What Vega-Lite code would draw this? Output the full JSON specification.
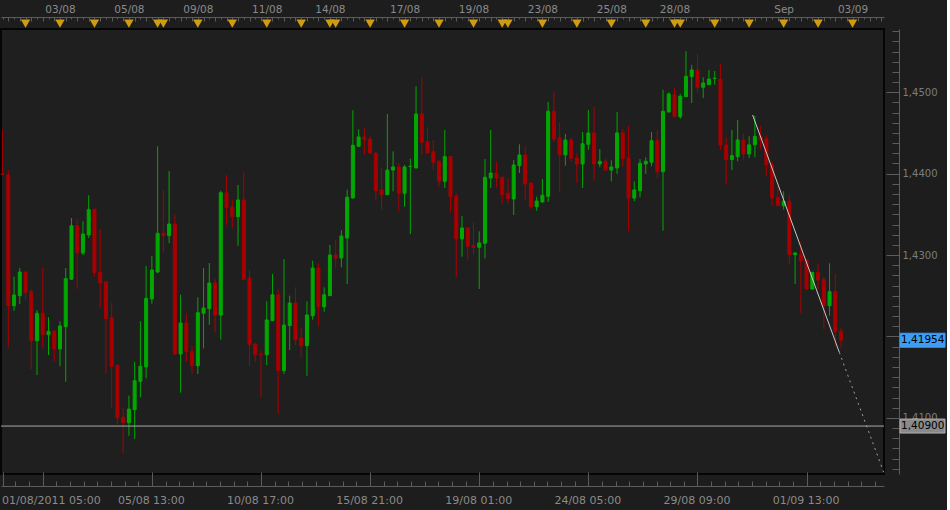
{
  "$schema": "https://vega.github.io/schema/vega-lite/v6.json",
  "background": "#1d1d1d",
  "padding": {"left": -1, "top": 4, "right": 0, "bottom": 0},
  "autosize": {"type": "pad"},
  "spacing": 0,
  "bounds": "flush",
  "config": {
    "view": {"stroke": null},
    "axis": {"labelFont": "DejaVu Sans", "labelColor": "#8a8a8a", "domainColor": "#5c5c5c", "tickColor": "#5c5c5c", "grid": false, "title": null, "labelOverlap": false, "labelFlush": false, "labelBound": false}
  },
  "datasets": {
    "candles": [
      {"i":1,"open":1.43995,"high":1.44549,"low":1.43985,"close":1.43990},
      {"i":2,"open":1.43984,"high":1.44045,"low":1.41867,"close":1.42378},
      {"i":3,"open":1.42378,"high":1.42734,"low":1.42317,"close":1.42510},
      {"i":4,"open":1.42501,"high":1.42841,"low":1.42399,"close":1.42792},
      {"i":5,"open":1.42792,"high":1.42800,"low":1.42440,"close":1.42543},
      {"i":6,"open":1.42550,"high":1.42583,"low":1.41601,"close":1.41948},
      {"i":7,"open":1.41948,"high":1.42325,"low":1.41527,"close":1.42285},
      {"i":8,"open":1.42285,"high":1.42841,"low":1.41855,"close":1.42022},
      {"i":9,"open":1.42022,"high":1.42236,"low":1.41773,"close":1.42064},
      {"i":10,"open":1.42064,"high":1.42080,"low":1.41690,"close":1.41846},
      {"i":11,"open":1.41846,"high":1.42187,"low":1.41634,"close":1.42129},
      {"i":12,"open":1.42120,"high":1.42841,"low":1.41445,"close":1.42710},
      {"i":13,"open":1.42703,"high":1.43456,"low":1.42694,"close":1.43361},
      {"i":14,"open":1.43361,"high":1.43443,"low":1.42583,"close":1.43029},
      {"i":15,"open":1.43026,"high":1.43415,"low":1.43001,"close":1.43259},
      {"i":16,"open":1.43247,"high":1.43735,"low":1.43210,"close":1.43558},
      {"i":17,"open":1.43558,"high":1.43572,"low":1.42739,"close":1.42784},
      {"i":18,"open":1.42792,"high":1.43320,"low":1.42354,"close":1.42661},
      {"i":19,"open":1.42669,"high":1.42681,"low":1.41539,"close":1.42219},
      {"i":20,"open":1.42227,"high":1.42411,"low":1.41121,"close":1.41634},
      {"i":21,"open":1.41646,"high":1.41662,"low":1.40916,"close":1.40999},
      {"i":22,"open":1.41007,"high":1.41121,"low":1.40569,"close":1.40941},
      {"i":23,"open":1.40941,"high":1.41273,"low":1.40781,"close":1.41109},
      {"i":24,"open":1.41101,"high":1.41690,"low":1.40741,"close":1.41457},
      {"i":25,"open":1.41449,"high":1.42187,"low":1.41253,"close":1.41634},
      {"i":26,"open":1.41625,"high":1.42866,"low":1.41486,"close":1.42469},
      {"i":27,"open":1.42461,"high":1.42989,"low":1.42403,"close":1.42817},
      {"i":28,"open":1.42792,"high":1.44336,"low":1.42780,"close":1.43268},
      {"i":29,"open":1.43268,"high":1.43800,"low":1.43029,"close":1.43238},
      {"i":30,"open":1.43238,"high":1.44033,"low":1.43145,"close":1.43382},
      {"i":31,"open":1.43382,"high":1.43492,"low":1.41773,"close":1.41785},
      {"i":32,"open":1.41785,"high":1.42513,"low":1.41309,"close":1.42166},
      {"i":33,"open":1.42166,"high":1.42285,"low":1.41683,"close":1.41813},
      {"i":34,"open":1.41818,"high":1.41887,"low":1.41539,"close":1.41641},
      {"i":35,"open":1.41641,"high":1.42481,"low":1.41539,"close":1.42292},
      {"i":36,"open":1.42285,"high":1.42841,"low":1.41855,"close":1.42350},
      {"i":37,"open":1.42341,"high":1.42903,"low":1.42145,"close":1.42657},
      {"i":38,"open":1.42657,"high":1.42706,"low":1.42051,"close":1.42264},
      {"i":39,"open":1.42264,"high":1.43791,"low":1.41961,"close":1.43766},
      {"i":40,"open":1.43766,"high":1.43984,"low":1.43373,"close":1.43582},
      {"i":41,"open":1.43591,"high":1.43680,"low":1.43329,"close":1.43472},
      {"i":42,"open":1.43472,"high":1.43861,"low":1.43115,"close":1.43677},
      {"i":43,"open":1.43677,"high":1.44021,"low":1.42694,"close":1.42703},
      {"i":44,"open":1.42719,"high":1.42817,"low":1.41641,"close":1.41899},
      {"i":45,"open":1.41908,"high":1.41914,"low":1.41690,"close":1.41776},
      {"i":46,"open":1.41785,"high":1.41825,"low":1.41253,"close":1.41779},
      {"i":47,"open":1.41776,"high":1.42432,"low":1.41650,"close":1.42203},
      {"i":48,"open":1.42194,"high":1.42768,"low":1.42190,"close":1.42513},
      {"i":49,"open":1.42513,"high":1.42583,"low":1.41056,"close":1.41580},
      {"i":50,"open":1.41580,"high":1.42952,"low":1.41539,"close":1.42141},
      {"i":51,"open":1.42133,"high":1.42501,"low":1.41834,"close":1.42411},
      {"i":52,"open":1.42411,"high":1.42604,"low":1.41895,"close":1.41957},
      {"i":53,"open":1.41981,"high":1.42104,"low":1.41736,"close":1.41887},
      {"i":54,"open":1.41887,"high":1.42432,"low":1.41518,"close":1.42264},
      {"i":55,"open":1.42255,"high":1.42931,"low":1.42206,"close":1.42841},
      {"i":56,"open":1.42841,"high":1.42899,"low":1.42125,"close":1.42366},
      {"i":57,"open":1.42366,"high":1.42604,"low":1.42304,"close":1.42513},
      {"i":58,"open":1.42501,"high":1.43124,"low":1.42497,"close":1.43001},
      {"i":59,"open":1.43001,"high":1.43185,"low":1.42838,"close":1.42964},
      {"i":60,"open":1.42964,"high":1.43304,"low":1.42850,"close":1.43234},
      {"i":61,"open":1.43210,"high":1.43803,"low":1.42645,"close":1.43710},
      {"i":62,"open":1.43701,"high":1.44779,"low":1.43695,"close":1.44349},
      {"i":63,"open":1.44336,"high":1.44545,"low":1.44334,"close":1.44451},
      {"i":64,"open":1.44451,"high":1.44558,"low":1.44233,"close":1.44418},
      {"i":65,"open":1.44426,"high":1.44459,"low":1.44242,"close":1.44254},
      {"i":66,"open":1.44254,"high":1.44260,"low":1.43668,"close":1.43791},
      {"i":67,"open":1.43800,"high":1.44070,"low":1.43558,"close":1.43742},
      {"i":68,"open":1.43742,"high":1.44733,"low":1.43738,"close":1.44045},
      {"i":69,"open":1.44045,"high":1.44275,"low":1.43784,"close":1.44082},
      {"i":70,"open":1.44082,"high":1.44131,"low":1.43538,"close":1.43759},
      {"i":71,"open":1.43759,"high":1.44107,"low":1.43594,"close":1.44082},
      {"i":72,"open":1.44087,"high":1.44184,"low":1.43259,"close":1.44091},
      {"i":73,"open":1.44070,"high":1.45074,"low":1.44064,"close":1.44733},
      {"i":74,"open":1.44733,"high":1.45184,"low":1.44233,"close":1.44386},
      {"i":75,"open":1.44393,"high":1.44570,"low":1.44248,"close":1.44254},
      {"i":76,"open":1.44275,"high":1.44414,"low":1.44045,"close":1.44140},
      {"i":77,"open":1.44152,"high":1.44172,"low":1.43840,"close":1.43906},
      {"i":78,"open":1.43906,"high":1.44537,"low":1.43824,"close":1.44209},
      {"i":79,"open":1.44209,"high":1.44217,"low":1.43526,"close":1.43717},
      {"i":80,"open":1.43722,"high":1.43759,"low":1.42727,"close":1.43198},
      {"i":81,"open":1.43198,"high":1.43477,"low":1.42980,"close":1.43333},
      {"i":82,"open":1.43333,"high":1.43341,"low":1.42943,"close":1.43108},
      {"i":83,"open":1.43115,"high":1.43403,"low":1.43005,"close":1.43096},
      {"i":84,"open":1.43096,"high":1.43292,"low":1.42583,"close":1.43149},
      {"i":85,"open":1.43145,"high":1.44180,"low":1.42960,"close":1.43956},
      {"i":86,"open":1.43947,"high":1.44537,"low":1.43824,"close":1.44008},
      {"i":87,"open":1.44008,"high":1.44147,"low":1.43833,"close":1.43947},
      {"i":88,"open":1.43956,"high":1.43960,"low":1.43628,"close":1.43742},
      {"i":89,"open":1.43759,"high":1.43943,"low":1.43628,"close":1.43698},
      {"i":90,"open":1.43689,"high":1.44168,"low":1.43492,"close":1.44107},
      {"i":91,"open":1.44098,"high":1.44361,"low":1.44008,"close":1.44230},
      {"i":92,"open":1.44230,"high":1.44336,"low":1.43677,"close":1.43873},
      {"i":93,"open":1.43886,"high":1.43892,"low":1.43566,"close":1.43594},
      {"i":94,"open":1.43594,"high":1.43717,"low":1.43545,"close":1.43664},
      {"i":95,"open":1.43652,"high":1.43935,"low":1.43646,"close":1.43735},
      {"i":96,"open":1.43722,"high":1.44881,"low":1.43652,"close":1.44766},
      {"i":97,"open":1.44766,"high":1.45012,"low":1.44393,"close":1.44426},
      {"i":98,"open":1.44438,"high":1.44631,"low":1.43779,"close":1.44230},
      {"i":99,"open":1.44230,"high":1.44488,"low":1.44098,"close":1.44414},
      {"i":100,"open":1.44414,"high":1.44438,"low":1.44147,"close":1.44189},
      {"i":101,"open":1.44193,"high":1.44250,"low":1.43886,"close":1.44119},
      {"i":102,"open":1.44119,"high":1.44512,"low":1.43824,"close":1.44368},
      {"i":103,"open":1.44361,"high":1.44782,"low":1.44291,"close":1.44500},
      {"i":104,"open":1.44500,"high":1.44823,"low":1.43914,"close":1.44119},
      {"i":105,"open":1.44119,"high":1.44303,"low":1.44078,"close":1.44152},
      {"i":106,"open":1.44152,"high":1.44180,"low":1.44037,"close":1.44045},
      {"i":107,"open":1.44045,"high":1.44164,"low":1.43906,"close":1.44082},
      {"i":108,"open":1.44070,"high":1.44758,"low":1.43996,"close":1.44500},
      {"i":109,"open":1.44500,"high":1.44549,"low":1.44086,"close":1.44189},
      {"i":110,"open":1.44193,"high":1.44590,"low":1.43292,"close":1.43701},
      {"i":111,"open":1.43701,"high":1.43906,"low":1.43661,"close":1.43800},
      {"i":112,"open":1.43791,"high":1.44180,"low":1.43710,"close":1.44128},
      {"i":113,"open":1.44119,"high":1.44201,"low":1.43996,"close":1.44152},
      {"i":114,"open":1.44140,"high":1.44512,"low":1.44091,"close":1.44405},
      {"i":115,"open":1.44405,"high":1.44537,"low":1.43943,"close":1.44024},
      {"i":116,"open":1.44024,"high":1.45032,"low":1.43300,"close":1.44766},
      {"i":117,"open":1.44758,"high":1.45000,"low":1.44752,"close":1.44979},
      {"i":118,"open":1.44970,"high":1.45053,"low":1.44696,"close":1.44700},
      {"i":119,"open":1.44700,"high":1.44979,"low":1.44672,"close":1.44951},
      {"i":120,"open":1.44946,"high":1.45504,"low":1.44942,"close":1.45196},
      {"i":121,"open":1.45192,"high":1.45335,"low":1.44868,"close":1.45274},
      {"i":122,"open":1.45274,"high":1.45470,"low":1.44991,"close":1.45061},
      {"i":123,"open":1.45061,"high":1.45184,"low":1.44930,"close":1.45114},
      {"i":124,"open":1.45093,"high":1.45274,"low":1.45089,"close":1.45163},
      {"i":125,"open":1.45169,"high":1.45262,"low":1.45093,"close":1.45172},
      {"i":126,"open":1.45163,"high":1.45348,"low":1.44291,"close":1.44352},
      {"i":127,"open":1.44352,"high":1.44445,"low":1.43865,"close":1.44174},
      {"i":128,"open":1.44174,"high":1.44537,"low":1.44045,"close":1.44221},
      {"i":129,"open":1.44209,"high":1.44660,"low":1.44152,"close":1.44414},
      {"i":130,"open":1.44414,"high":1.44496,"low":1.44172,"close":1.44242},
      {"i":131,"open":1.44242,"high":1.44459,"low":1.44193,"close":1.44354},
      {"i":132,"open":1.44356,"high":1.44712,"low":1.44201,"close":1.44459},
      {"i":133,"open":1.44459,"high":1.44590,"low":1.44303,"close":1.44418},
      {"i":134,"open":1.44426,"high":1.44467,"low":1.43968,"close":1.44110},
      {"i":135,"open":1.44110,"high":1.44152,"low":1.43607,"close":1.43701},
      {"i":136,"open":1.43710,"high":1.43852,"low":1.43603,"close":1.43607},
      {"i":137,"open":1.43607,"high":1.43784,"low":1.43558,"close":1.43661},
      {"i":138,"open":1.43661,"high":1.43742,"low":1.42882,"close":1.43005},
      {"i":139,"open":1.43005,"high":1.43034,"low":1.42645,"close":1.43026},
      {"i":140,"open":1.43005,"high":1.43157,"low":1.42285,"close":1.42931},
      {"i":141,"open":1.42940,"high":1.42946,"low":1.42577,"close":1.42583},
      {"i":142,"open":1.42583,"high":1.42792,"low":1.42577,"close":1.42789},
      {"i":143,"open":1.42789,"high":1.42891,"low":1.42583,"close":1.42694},
      {"i":144,"open":1.42698,"high":1.42734,"low":1.42092,"close":1.42378},
      {"i":145,"open":1.42378,"high":1.42899,"low":1.42255,"close":1.42550},
      {"i":146,"open":1.42550,"high":1.42768,"low":1.41867,"close":1.42059},
      {"i":147,"open":1.42064,"high":1.42104,"low":1.41855,"close":1.41954}
    ],
    "events": [
      {"i":5,"lane":0.45},{"i":11,"lane":0.45},{"i":17,"lane":0.45},{"i":23,"lane":0.45},
      {"i":28,"lane":0.45},{"i":29,"lane":0.45},{"i":35,"lane":0.45},{"i":41,"lane":0.45},
      {"i":47,"lane":0.45},{"i":53,"lane":0.45},{"i":58,"lane":0.45},{"i":59,"lane":0.45},
      {"i":65,"lane":0.45},{"i":71,"lane":0.45},{"i":77,"lane":0.45},{"i":83,"lane":0.45},
      {"i":88,"lane":0.45},{"i":89,"lane":0.45},{"i":95,"lane":0.45},{"i":101,"lane":0.45},
      {"i":107,"lane":0.45},{"i":113,"lane":0.45},{"i":118,"lane":0.45},{"i":119,"lane":0.45},
      {"i":125,"lane":0.45},{"i":131,"lane":0.45},{"i":137,"lane":0.45},{"i":143,"lane":0.45},
      {"i":149,"lane":0.45}
    ],
    "trend": [
      {"i":131.6,"p":1.44721,"seg":"solid"},
      {"i":146.7,"p":1.41806,"seg":"solid"},
      {"i":146.7,"p":1.41806,"seg":"ext"},
      {"i":154.43,"p":1.40332,"seg":"ext"}
    ],
    "levels": [
      {"p":1.409,"kind":"level"}
    ],
    "tags": [
      {"p":1.41954,"kind":"bid"},
      {"p":1.409,"kind":"level"}
    ]
  },
  "vconcat": [
    {
      "width": 883,
      "height": 12,
      "data": {"name": "events"},
      "mark": {"type": "point", "shape": "triangle-down", "filled": true, "color": "#d09c10", "opacity": 1, "size": 90},
      "encoding": {
        "x": {
          "field": "i", "type": "quantitative",
          "scale": {"domain": [0.728, 154.48], "nice": false, "zero": false, "padding": 0},
          "axis": {
            "orient": "top",
            "values": [1,2,3,4,5,6,7,8,9,10,11,12,13,14,15,16,17,18,19,20,21,22,23,24,25,26,27,28,29,30,31,32,33,34,35,36,37,38,39,40,41,42,43,44,45,46,47,48,49,50,51,52,53,54,55,56,57,58,59,60,61,62,63,64,65,66,67,68,69,70,71,72,73,74,75,76,77,78,79,80,81,82,83,84,85,86,87,88,89,90,91,92,93,94,95,96,97,98,99,100,101,102,103,104,105,106,107,108,109,110,111,112,113,114,115,116,117,118,119,120,121,122,123,124,125,126,127,128,129,130,131,132,133,134,135,136,137,138,139,140,141,142,143,144,145,146,147,148,149,150,151,152,153,154],
            "tickSize": {"condition": {"test": "datum.value % 2 == 0", "value": -4}, "value": -2},
            "labelPadding": {"condition": {"test": "datum.value % 2 == 0", "value": 7}, "value": 5},
            "labelExpr": "datum.value==11?'03/08':datum.value==23?'05/08':datum.value==35?'09/08':datum.value==47?'11/08':datum.value==58?'14/08':datum.value==71?'17/08':datum.value==83?'19/08':datum.value==95?'23/08':datum.value==107?'25/08':datum.value==118?'28/08':datum.value==137?'Sep':datum.value==149?'03/09':''",
            "labelOverlap": false,
            "labelFontSize": 10.5,
            "domainColor": "#5c5c5c"
          }
        },
        "y": {"field": "lane", "type": "quantitative", "scale": {"domain": [0, 1]}, "axis": null}
      }
    },
    {
      "width": 883,
      "height": 445,
      "view": {"stroke": "#050505", "strokeWidth": 2, "fill": "#1f1f1f"},
      "resolve": {"axis": {"x": "independent", "y": "independent"}},
      "layer": [
        {
          "data": {"name": "candles"},
          "mark": {"type": "rule", "strokeWidth": 1},
          "encoding": {
            "x": {
              "field": "i", "type": "quantitative", "title": null,
              "scale": {"domain": [0.728, 154.48], "nice": false, "zero": false, "padding": 0},
              "axis": {
                "orient": "bottom", "offset": 12,
                "values": [1,3.25,5.625,8,10.375,12.75,15.125,17.5,19.875,22.25,24.625,27,29.375,31.75,34.125,36.5,38.875,41.25,43.625,46,48.375,50.75,53.125,55.5,57.875,60.25,62.625,65,67.375,69.75,72.125,74.5,76.875,79.25,81.625,84,86.375,88.75,91.125,93.5,95.875,98.25,100.625,103,105.375,107.75,110.125,112.5,114.875,117.25,119.625,122,124.375,126.75,129.125,131.5,133.875,136.25,138.625,141,143.375,145.75,148.125,150.5,152.875],
                "tickSize": {"condition": {"test": "datum.value==1 || (datum.value-8)%19==0", "value": -14}, "value": -5},
                "labelExpr": "datum.value==1?'01/08/2011 05:00':datum.value==27?'05/08 13:00':datum.value==46?'10/08 17:00':datum.value==65?'15/08 21:00':datum.value==84?'19/08 01:00':datum.value==103?'24/08 05:00':datum.value==122?'29/08 09:00':datum.value==141?'01/09 13:00':''",
                "labelAlign": {"condition": {"test": "datum.value==1", "value": "left"}, "value": "center"},
                "labelOffset": {"condition": {"test": "datum.value==1", "value": -1}, "value": -1},
                "labelOverlap": false,
                "labelPadding": 22,
                "labelBaseline": "top",
                "labelFontSize": 11
              }
            },
            "y": {
              "field": "low", "type": "quantitative", "title": null,
              "scale": {"domain": [1.40311, 1.45777], "nice": false, "zero": false, "padding": 0},
              "axis": {
                "orient": "right", "offset": 15,
                "values": [1.40375,1.405,1.40625,1.4075,1.40875,1.41,1.41125,1.4125,1.41375,1.415,1.41625,1.4175,1.41875,1.42,1.42125,1.4225,1.42375,1.425,1.42625,1.4275,1.42875,1.43,1.43125,1.4325,1.43375,1.435,1.43625,1.4375,1.43875,1.44,1.44125,1.4425,1.44375,1.445,1.44625,1.4475,1.44875,1.45,1.45125,1.4525,1.45375,1.455,1.45625,1.4575],
                "tickSize": {"condition": {"test": "abs(datum.value*100-round(datum.value*100))<0.0001", "value": -13}, "value": -7},
                "labelExpr": "abs(datum.value*100-round(datum.value*100))<0.0001 && abs(datum.value-1.42)>0.0001 ? replace(format(datum.value, '.4f'), '.', ',') : ''",
                "labelOverlap": false,
                "labelPadding": 16,
                "labelFontSize": 10,
                "labelColor": "#7c7c7c"
              }
            },
            "y2": {"field": "high"},
            "color": {"condition": {"test": "datum.close >= datum.open", "value": "#00a800"}, "value": "#a80000"}
          }
        },
        {
          "data": {"name": "candles"},
          "mark": {"type": "bar", "width": 3, "strokeWidth": 1},
          "encoding": {
            "x": {"field": "i", "type": "quantitative", "title": null, "axis": null},
            "y": {"field": "open", "type": "quantitative", "title": null, "axis": null},
            "y2": {"field": "close"},
            "fill": {"condition": {"test": "datum.close >= datum.open", "value": "#00a800"}, "value": "#a80000"},
            "stroke": {"condition": {"test": "datum.close >= datum.open", "value": "#00a800"}, "value": "#a80000"}
          }
        },
        {
          "data": {"name": "levels"},
          "mark": {"type": "rule", "color": "#a8a8a8", "strokeWidth": 1},
          "encoding": {
            "y": {"field": "p", "type": "quantitative", "title": null, "axis": null}
          }
        },
        {
          "data": {"name": "trend"},
          "transform": [{"filter": "datum.seg == 'solid'"}],
          "mark": {"type": "line", "color": "#c8c8c8", "strokeWidth": 1},
          "encoding": {
            "x": {"field": "i", "type": "quantitative", "title": null, "axis": null},
            "y": {"field": "p", "type": "quantitative", "title": null, "axis": null}
          }
        },
        {
          "data": {"name": "trend"},
          "transform": [{"filter": "datum.seg == 'ext'"}],
          "mark": {"type": "line", "color": "#a0a0a0", "strokeWidth": 1, "strokeDash": [2, 4]},
          "encoding": {
            "x": {"field": "i", "type": "quantitative", "title": null, "axis": null},
            "y": {"field": "p", "type": "quantitative", "title": null, "axis": null}
          }
        },
        {
          "data": {"name": "tags"},
          "mark": {"type": "rect", "height": 14, "strokeWidth": 1},
          "encoding": {
            "x": {"datum": 157.27, "type": "quantitative", "axis": null},
            "x2": {"datum": 165.1},
            "y": {"field": "p", "type": "quantitative", "title": null, "axis": null},
            "fill": {"field": "kind", "type": "nominal", "scale": {"domain": ["bid", "level"], "range": ["#3d9df5", "#8a8a8a"]}, "legend": null},
            "stroke": {"field": "kind", "type": "nominal", "scale": {"domain": ["bid", "level"], "range": ["#3d9df5", "#b0b0b0"]}, "legend": null}
          }
        },
        {
          "data": {"name": "tags"},
          "transform": [{"calculate": "replace(format(datum.p, '.5f'), '.', ',')", "as": "label"}],
          "mark": {"type": "text", "align": "left", "baseline": "middle", "font": "DejaVu Sans", "fontSize": 10.5, "color": "#000000", "dx": 1},
          "encoding": {
            "x": {"datum": 157.27, "type": "quantitative", "axis": null},
            "y": {"field": "p", "type": "quantitative", "title": null, "axis": null},
            "text": {"field": "label"}
          }
        }
      ]
    }
  ]
}
